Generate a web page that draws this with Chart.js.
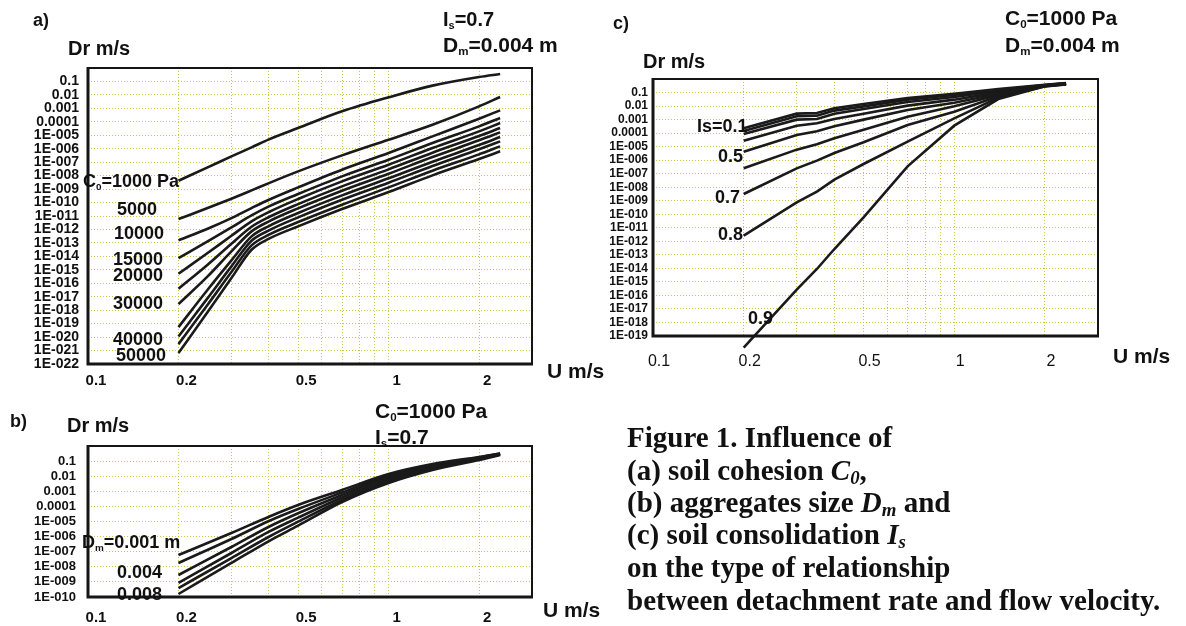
<!DOCTYPE html>
<html><head><meta charset="utf-8">
<script src="https://cdn.jsdelivr.net/npm/chart.js@4.4.1/dist/chart.umd.min.js"></script>
<style>
html,body{margin:0;padding:0;background:#fff;}
#wrap{position:relative;width:1186px;height:626px;overflow:hidden;background:#fff;}
canvas{position:absolute;left:0;top:0;}
.t{position:absolute;font-family:"Liberation Sans",Arial,sans-serif;font-weight:bold;color:#111;white-space:nowrap;line-height:1;transform:translateY(-50%);z-index:5;}
.t sub{font-size:55%;vertical-align:-0.3em;line-height:0;}
.cap{position:absolute;left:627px;font-family:"Liberation Serif","Times New Roman",serif;font-weight:bold;font-size:29px;color:#111;white-space:nowrap;line-height:1;transform:translateY(-50%);z-index:5;}
.cap i sub{font-size:65%;vertical-align:-0.25em;line-height:0;}
</style></head><body><div id="wrap">
<canvas id="ca" width="1186" height="626"></canvas>
<canvas id="cb" width="1186" height="626"></canvas>
<canvas id="cc" width="1186" height="626"></canvas>

<div class="t" style="left:33px;top:20px;font-size:18px">a)</div>
<div class="t" style="left:68px;top:48px;font-size:20px">Dr m/s</div>
<div class="t" style="left:443px;top:19px;font-size:20px">I<sub>s</sub>=0.7</div>
<div class="t" style="left:443px;top:44px;font-size:21px">D<sub>m</sub>=0.004 m</div>
<div class="t" style="left:83px;top:181px;font-size:18px">C<sub>0</sub>=1000 Pa</div>
<div class="t" style="left:117px;top:209px;font-size:18px">5000</div>
<div class="t" style="left:114px;top:233px;font-size:18px">10000</div>
<div class="t" style="left:113px;top:259px;font-size:18px">15000</div>
<div class="t" style="left:113px;top:275px;font-size:18px">20000</div>
<div class="t" style="left:113px;top:303px;font-size:18px">30000</div>
<div class="t" style="left:113px;top:339px;font-size:18px">40000</div>
<div class="t" style="left:116px;top:355px;font-size:18px">50000</div>
<div class="t" style="left:547px;top:370px;font-size:21px">U m/s</div>

<div class="t" style="left:10px;top:421px;font-size:18px">b)</div>
<div class="t" style="left:67px;top:425px;font-size:20px">Dr m/s</div>
<div class="t" style="left:375px;top:410px;font-size:21px">C<sub>0</sub>=1000 Pa</div>
<div class="t" style="left:375px;top:436px;font-size:21px">I<sub>s</sub>=0.7</div>
<div class="t" style="left:82px;top:542px;font-size:18px">D<sub>m</sub>=0.001 m</div>
<div class="t" style="left:117px;top:572px;font-size:18px">0.004</div>
<div class="t" style="left:117px;top:594px;font-size:18px">0.008</div>
<div class="t" style="left:543px;top:609px;font-size:21px">U m/s</div>

<div class="t" style="left:613px;top:23px;font-size:18px">c)</div>
<div class="t" style="left:643px;top:61px;font-size:20px">Dr m/s</div>
<div class="t" style="left:1005px;top:17px;font-size:21px">C<sub>0</sub>=1000 Pa</div>
<div class="t" style="left:1005px;top:44px;font-size:21px">D<sub>m</sub>=0.004 m</div>
<div class="t" style="left:697px;top:126px;font-size:18px">Is=0.1</div>
<div class="t" style="left:718px;top:156px;font-size:18px">0.5</div>
<div class="t" style="left:715px;top:197px;font-size:18px">0.7</div>
<div class="t" style="left:718px;top:234px;font-size:18px">0.8</div>
<div class="t" style="left:748px;top:318px;font-size:18px">0.9</div>
<div class="t" style="left:1113px;top:355px;font-size:21px">U m/s</div>

<div class="cap" style="top:437px">Figure 1. Influence of</div>
<div class="cap" style="top:470px">(a) soil cohesion <i>C<sub>0</sub></i>,</div>
<div class="cap" style="top:502px">(b) aggregates size <i>D<sub>m</sub></i> and</div>
<div class="cap" style="top:534px">(c) soil consolidation <i>I<sub>s</sub></i></div>
<div class="cap" style="top:567px">on the type of relationship</div>
<div class="cap" style="top:600px">between detachment rate and flow velocity.</div>
</div>
<script>
// ---------- data ----------
const xTickVals   = [0.1, 0.2, 0.3, 0.4, 0.5, 0.6, 0.7, 0.8, 0.9, 1, 2, 3];
const xTickLabels = ['0.1', '0.2', '', '', '0.5', '', '', '', '', '1', '2', ''];
const yLabelsA = ['', '0.1', '0.01', '0.001', '0.0001', '1E-005', '1E-006', '1E-007', '1E-008', '1E-009', '1E-010',
  '1E-011', '1E-012', '1E-013', '1E-014', '1E-015', '1E-016', '1E-017', '1E-018', '1E-019', '1E-020', '1E-021', '1E-022'];
const yLabelsB = ['', '0.1', '0.01', '0.001', '0.0001', '1E-005', '1E-006', '1E-007', '1E-008', '1E-009', '1E-010'];
const yLabelsC = ['', '0.1', '0.01', '0.001', '0.0001', '1E-005', '1E-006', '1E-007', '1E-008', '1E-009', '1E-010',
  '1E-011', '1E-012', '1E-013', '1E-014', '1E-015', '1E-016', '1E-017', '1E-018', '1E-019'];

// (a) cohesion C0, Is=0.7, Dm=0.004 m
const uA = [0.2, 0.25, 0.3, 0.35, 0.4, 0.5, 0.7, 1.0, 1.4, 2.0, 2.35];
const namesA = ['C0=1000 Pa', '5000', '10000', '15000', '20000', '25000', '30000', '35000', '40000', '45000', '50000'];
const a_c1000  = [4.2e-9, 4.1e-8, 2.7e-7, 1.26e-6, 5.0e-6, 3.46e-5, 6.0e-4, 6.6e-3, 4.9e-2, 0.214, 0.358];
const a_c5000  = [5.9e-12, 3.9e-11, 1.93e-10, 8.0e-10, 2.8e-9, 2.07e-8, 3.2e-7, 4.7e-6, 6.1e-5, 1.41e-3, 7.0e-3];
const a_c10000 = [1.54e-13, 1.13e-12, 7.0e-12, 3.9e-11, 1.63e-10, 1.34e-9, 2.76e-8, 4.8e-7, 8.3e-6, 1.71e-4, 7.1e-4];
const a_c15000 = [7.5e-15, 1.30e-13, 1.43e-12, 1.11e-11, 5.2e-11, 4.3e-10, 8.8e-9, 1.53e-7, 2.65e-6, 4.6e-5, 1.92e-4];
const a_c20000 = [5.1e-16, 1.76e-14, 3.4e-13, 4.0e-12, 1.97e-11, 1.82e-10, 3.75e-9, 6.5e-8, 1.13e-6, 1.95e-5, 8.1e-5];
const a_c25000 = [3.9e-17, 2.39e-15, 8.7e-14, 1.60e-12, 8.4e-12, 7.7e-11, 1.59e-9, 2.92e-8, 5.1e-7, 8.8e-6, 3.46e-5];
const a_c30000 = [2.84e-18, 3.24e-16, 2.34e-14, 7.2e-13, 4.0e-12, 3.7e-11, 7.6e-10, 1.39e-8, 2.42e-7, 4.2e-6, 1.65e-5];
const a_c35000 = [5.5e-20, 3.3e-17, 5.0e-15, 3.05e-13, 1.79e-12, 1.66e-11, 3.4e-10, 6.3e-9, 1.09e-7, 1.88e-6, 7.4e-6];
const a_c40000 = [1.12e-20, 7.9e-18, 1.79e-15, 1.45e-13, 8.5e-13, 7.9e-12, 1.63e-10, 2.99e-9, 5.2e-8, 9.0e-7, 3.5e-6];
const a_c45000 = [3.0e-21, 2.54e-18, 6.8e-16, 6.5e-14, 4.1e-13, 3.55e-12, 6.9e-11, 1.34e-9, 2.33e-8, 3.8e-7, 1.50e-6];
const a_c50000 = [6.5e-22, 7.2e-19, 2.44e-16, 3.1e-14, 2.05e-13, 1.69e-12, 3.3e-11, 6.0e-10, 1.05e-8, 1.71e-7, 6.4e-7];

// (b) aggregate size Dm, C0=1000 Pa, Is=0.7
const uB = [0.2, 0.3, 0.4, 0.5, 0.7, 1.0, 1.4, 2.0, 2.35];
const namesB = ['Dm=0.001 m', '0.002', '0.004', '0.005', '0.006', '0.008'];
const b_d001 = [6.0e-8, 1.73e-6, 2.08e-5, 1.24e-4, 1.22e-3, 1.40e-2, 6.4e-2, 0.187, 0.32];
const b_d002 = [1.79e-8, 6.9e-7, 1.08e-5, 6.7e-5, 8.3e-4, 1.11e-2, 5.5e-2, 0.173, 0.32];
const b_d004 = [2.86e-9, 2.05e-7, 4.5e-6, 3.5e-5, 5.7e-4, 8.9e-3, 4.7e-2, 0.160, 0.295];
const b_d005 = [8.5e-10, 8.2e-8, 2.11e-6, 1.79e-5, 3.9e-4, 6.5e-3, 4.1e-2, 0.149, 0.295];
const b_d006 = [3.9e-10, 3.8e-8, 9.8e-7, 9.7e-6, 2.65e-4, 4.8e-3, 3.24e-2, 0.138, 0.27];
const b_d008 = [1.58e-10, 1.79e-8, 5.1e-7, 5.3e-6, 1.95e-4, 3.55e-3, 2.58e-2, 0.118, 0.254];

// (c) consolidation Is, C0=1000 Pa, Dm=0.004 m
const uC = [0.2, 0.3, 0.35, 0.4, 0.5, 0.7, 1.0, 1.4, 2.0, 2.35];
const namesC = ['Is=0.1', '0.2', '0.3', '0.4', '0.5', '0.6', '0.7', '0.8', '0.9'];
const c_is01 = [2.25e-4, 2.74e-3, 3.06e-3, 6.8e-3, 1.42e-2, 3.9e-2, 8.2e-2, 0.182, 0.38, 0.51];
const c_is02 = [1.43e-4, 1.74e-3, 1.95e-3, 4.6e-3, 9.5e-3, 2.97e-2, 6.6e-2, 0.154, 0.36, 0.49];
const c_is03 = [8.6e-5, 9.9e-4, 1.10e-3, 2.74e-3, 6.1e-3, 2.0e-2, 4.7e-2, 0.130, 0.34, 0.48];
const c_is04 = [2.76e-5, 3.55e-4, 5.3e-4, 1.10e-3, 2.74e-3, 1.07e-2, 2.97e-2, 0.103, 0.33, 0.465];
const c_is05 = [4.2e-6, 7.2e-5, 1.35e-4, 3.2e-4, 9.9e-4, 5.1e-3, 1.78e-2, 0.082, 0.32, 0.45];
const c_is06 = [2.49e-7, 6.0e-6, 1.48e-5, 4.1e-5, 1.79e-4, 1.64e-3, 9.5e-3, 0.066, 0.31, 0.44];
const c_is07 = [3.15e-9, 2.49e-7, 9.2e-7, 3.4e-6, 2.08e-5, 4.0e-4, 3.85e-3, 0.052, 0.30, 0.43];
const c_is08 = [2.62e-12, 7.6e-10, 4.7e-9, 3.6e-8, 5.2e-7, 2.33e-5, 1.24e-3, 0.042, 0.295, 0.415];
const c_is09 = [1.37e-20, 2.67e-16, 9.0e-15, 2.7e-13, 5.9e-11, 3.5e-7, 3.55e-4, 0.033, 0.287, 0.40];

// ---------- drawing ----------
const gridColor = 'rgba(200,188,60,0.9)';
const framePlugin = {
  id: 'frame',
  afterDraw(chart) {
    const {ctx, chartArea: a} = chart;
    ctx.save();
    ctx.strokeStyle = '#151515';
    ctx.lineWidth = 2;
    ctx.strokeRect(a.left, a.top, a.right - a.left, a.bottom - a.top);
    ctx.lineWidth = 3;
    ctx.beginPath();
    ctx.moveTo(a.left, a.top - 1);
    ctx.lineTo(a.left, a.bottom);
    ctx.lineTo(a.right + 1, a.bottom);
    ctx.stroke();
    ctx.restore();
  }
};
function decadeTicks(n) {
  const t = [];
  for (let i = n; i >= 0; i--) t.push({value: Math.pow(10, -i)});
  return t;
}
function makePanel(id, p) {
  const datasets = p.series.map((s, k) => {
    const d = {
      label: p.names[k],
      data: p.u.map((u, i) => ({x: u, y: s[i]})),
      borderColor: '#1a1a1a', borderWidth: p.lw, pointRadius: 0, fill: false,
      cubicInterpolationMode: p.smooth ? 'monotone' : 'default', tension: 0
    };
    if (p.noclip) d.clip = false;
    return d;
  });
  new Chart(document.getElementById(id), {
    type: 'line',
    data: {datasets},
    options: {
      responsive: false, animation: false, devicePixelRatio: 1,
      layout: {padding: {left: 0, top: p.area.T, right: 1186 - p.area.R, bottom: 626 - p.area.B - p.xH}},
      plugins: {legend: {display: false}, tooltip: {enabled: false}},
      scales: {
        x: {
          type: 'logarithmic', min: 0.1, max: 3,
          afterBuildTicks: s => { s.ticks = xTickVals.map(v => ({value: v})); },
          afterFit: s => { s.height = p.xH; },
          grid: {color: gridColor, lineWidth: 1, drawTicks: false},
          border: {display: false, dash: [1, 2]},
          ticks: {autoSkip: false, maxRotation: 0, minRotation: 0, padding: p.xPad, labelOffset: p.xOff,
                  color: '#111', font: p.xFont, callback: (v, i) => xTickLabels[i]}
        },
        y: {
          type: 'logarithmic', min: Math.pow(10, -p.nDec), max: 1,
          afterBuildTicks: s => { s.ticks = decadeTicks(p.nDec); },
          afterFit: s => { s.width = p.area.L; },
          grid: {color: gridColor, lineWidth: 1, drawTicks: false},
          border: {display: false, dash: [1, 2]},
          ticks: {autoSkip: false, padding: p.yPad, color: '#111', font: p.yFont,
                  callback: v => p.yLabels[Math.round(-Math.log10(v))]}
        }
      }
    },
    plugins: [framePlugin]
  });
}

makePanel('ca', {
  area: {L: 88, T: 68, R: 532, B: 364}, xH: 40, nDec: 22, yLabels: yLabelsA,
  u: uA, names: namesA,
  series: [a_c1000, a_c5000, a_c10000, a_c15000, a_c20000, a_c25000, a_c30000, a_c35000, a_c40000, a_c45000, a_c50000],
  lw: 2.6, smooth: true,
  xPad: 8, xOff: 8, xFont: {family: 'Liberation Sans, Arial', size: 15, weight: 'bold'},
  yPad: 9, yFont: {family: 'Liberation Sans, Arial', size: 14, weight: 'bold'}
});
makePanel('cb', {
  area: {L: 88, T: 446, R: 532, B: 597}, xH: 29, nDec: 10, yLabels: yLabelsB,
  u: uB, names: namesB,
  series: [b_d001, b_d002, b_d004, b_d005, b_d006, b_d008],
  lw: 2.6, smooth: true,
  xPad: 12, xOff: 8, xFont: {family: 'Liberation Sans, Arial', size: 15, weight: 'bold'},
  yPad: 12, yFont: {family: 'Liberation Sans, Arial', size: 13, weight: 'bold'}
});
makePanel('cc', {
  area: {L: 653, T: 79, R: 1098, B: 336}, xH: 40, nDec: 19, yLabels: yLabelsC,
  u: uC, names: namesC,
  series: [c_is01, c_is02, c_is03, c_is04, c_is05, c_is06, c_is07, c_is08, c_is09],
  lw: 2.6, smooth: false, noclip: true,
  xPad: 16, xOff: 6, xFont: {family: 'Liberation Sans, Arial', size: 16, weight: 'normal'},
  yPad: 5, yFont: {family: 'Liberation Sans, Arial', size: 12, weight: 'bold'}
});
</script>
</body></html>
